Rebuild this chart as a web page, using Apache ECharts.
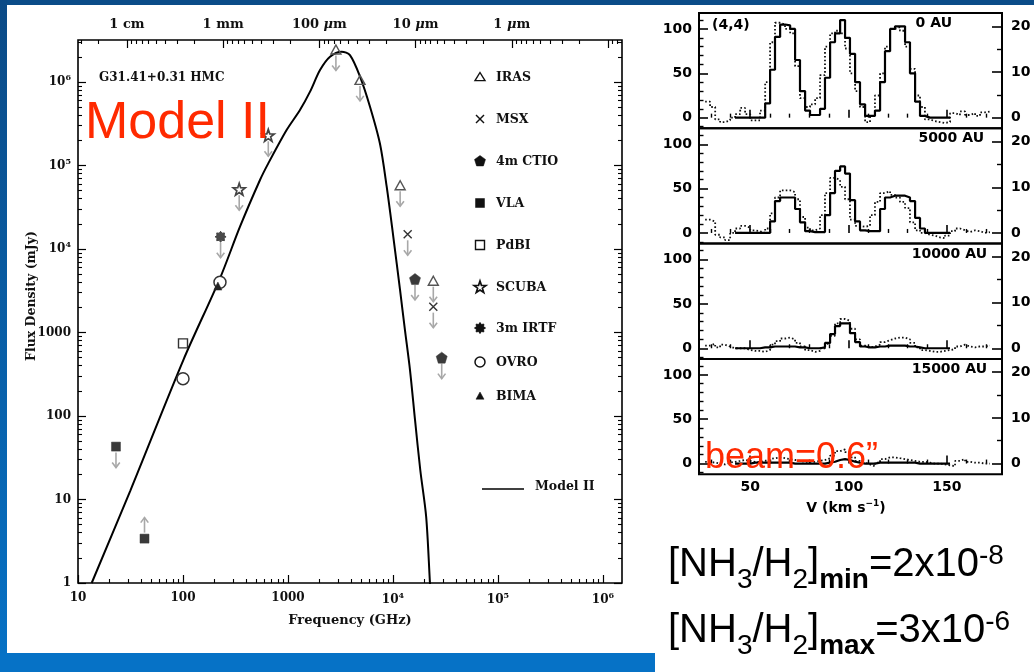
<!DOCTYPE html>
<html><head><meta charset="utf-8">
<script src="https://cdn.jsdelivr.net/npm/echarts@6/dist/echarts.min.js"></script>
<style>html,body{margin:0;padding:0;background:#fff}#c{width:1034px;height:672px}</style>
</head><body><div id="c"></div>
<script>
// ---------------- SED of G31.41+0.31 HMC (frequency GHz, flux density mJy) ----------------
const instruments = ['IRAS', 'MSX', '4m CTIO', 'VLA', 'PdBI', 'SCUBA', '3m IRTF', 'OVRO', 'BIMA'];
const irasPts  = [[2860, 2.45e6], [4850, 1.06e6], [11700, 5.8e4], [24200, 4170]];
const msxPts   = [[13800, 1.5e4], [24200, 2040]];
const ctioPts  = [[16200, 4370], [29100, 500]];
const vlaPts   = [[23, 43], [43, 3.4]];
const pdbiPts  = [[100, 740]];
const scubaPts = [[649, 2.3e5], [343, 5.2e4]];
const irtfPts  = [[228, 1.4e4]];
const ovroPts  = [[100, 280], [225, 4000]];
const bimaPts  = [[215, 3600]];
// limit direction per point: 1 = upper limit (arrow down), -1 = lower limit (arrow up)
const irasLim  = [1, 1, 1, 1];
const msxLim   = [1, 1];
const ctioLim  = [1, 1];
const vlaLim   = [1, -1];
const scubaLim = [1, 1];
const irtfLim  = [1];
// Model II spectral energy distribution
const modelSED = [[13.5, 1.0], [31.6, 12.9], [100.7, 468], [225, 4460], [349, 18500], [541, 67000],
  [649, 106000], [970, 266000], [1300, 462000], [1622, 766000], [2018, 1.39e6], [2512, 2.01e6],
  [3243, 2.31e6], [3890, 2.10e6], [4853, 1.16e6], [6039, 5.06e5], [7516, 1.82e5], [8710, 5.57e4],
  [10070, 1.40e4], [11670, 3230], [13000, 1070], [14520, 355], [16220, 89], [18200, 22.4],
  [20700, 6.2], [22490, 1.0], [22900, 0.7]];
const freqTicks = [10, 100, 1000, 1e4, 1e5, 1e6];
const fluxTicks = [1, 10, 100, 1000, 1e4, 1e5, 1e6];
const waveTicksCm = [1, 0.1, 0.01, 0.001, 1e-4];
const waveLabels = ['1 cm', '1 mm', '100 {i|μ}m', '10 {i|μ}m', '1 {i|μ}m'];

// ---------------- NH3 (4,4) spectra at four offsets ----------------
const panelNames = ['0 AU', '5000 AU', '10000 AU', '15000 AU'];
const chanWidth = 2.54;
const velModel = [43.6, 46.2, 48.7, 51.3, 53.8, 56.3, 58.9, 61.4, 63.9, 66.5, 69.0, 71.6, 74.1, 76.6,
  79.2, 81.7, 84.3, 86.8, 89.3, 91.9, 94.4, 97.0, 99.5, 102.0, 104.6, 107.1, 109.7, 112.2, 114.7,
  117.3, 119.8, 122.4, 124.9, 127.4, 130.0, 132.5, 135.1, 137.6, 140.1, 142.7, 145.2, 147.8, 150.3];
const velObs = [28.4, 30.9, 33.5, 36.0, 38.5, 41.1, 43.6, 46.2, 48.7, 51.3, 53.8, 56.3, 58.9, 61.4,
  63.9, 66.5, 69.0, 71.6, 74.1, 76.6, 79.2, 81.7, 84.3, 86.8, 89.3, 91.9, 94.4, 97.0, 99.5, 102.0,
  104.6, 107.1, 109.7, 112.2, 114.7, 117.3, 119.8, 122.4, 124.9, 127.4, 130.0, 132.5, 135.1, 137.6,
  140.1, 142.7, 145.2, 147.8, 150.3, 152.9, 155.4, 157.9, 160.5, 163.0, 165.6, 168.1, 170.6];
const model0 = [0, 0, 0, 0, 0, 0, 16, 54, 91, 105, 104, 100, 65, 30, 8, 3, 3, 10, 45, 85, 95, 110, 90,
  72, 40, 15, 2, 2, 8, 40, 75, 100, 103, 103, 85, 50, 18, 2, 0, 0, 0, 0, 0];
const model1 = [0, 0, 0, 0, 0, 0, 0, 13, 36, 40, 40, 40, 27, 12, 2, 1, 1, 1, 20, 45, 70, 75, 67, 37,
  13, 3, 2, 2, 2, 27, 40, 42, 42, 42, 40, 36, 17, 5, 0, 0, 0, 0, 0];
const model2 = [0, 0, 0, 0, 0, 1, 1, 2, 2, 2, 2, 2, 1, 1, 0, 0, 0, 1, 6, 16, 25, 28, 28, 17, 7, 2, 1,
  1, 2, 2, 3, 3, 3, 3, 2, 2, 1, 0, 0, 0, 0, 0, 0];
const model3 = [0, 0, 0, 1, 1, 1, 1, 1, 1, 1, 1, 0, 0, 0, 0, 0, 0, 0, 1, 2, 4, 5, 4, 2, 1, 0, 0, 0, 1,
  1, 1, 1, 1, 1, 1, 1, 0, 0, 0, 0, 0, 0, 0];
const obs0 = [18, 12, -2, -5, -3, 0, 4, 11, 4, -3, -3, 8, 40, 85, 107, 105, 100, 95, 58, 22, 12, 15, 22,
  48, 80, 95, 98, 95, 78, 50, 30, 12, -5, 2, 25, 50, 80, 100, 102, 98, 80, 55, 25, 12, -2, -4, -5, -6,
  -5, 5, 3, 7, 3, 5, 2, 6, 7];
const obs1 = [15, 13, -2, -5, -8, 0, 5, 8, 6, 3, 2, 0, 5, 22, 40, 48, 48, 46, 38, 18, 6, 3, 5, 20, 45,
  62, 60, 52, 38, 15, 8, 7, 8, 20, 35, 45, 47, 43, 40, 35, 28, 12, 3, 0, -2, -3, -5, -6, -3, 2, 5, 3,
  1, 3, 2, 0, 1];
const obs2 = [3, 5, 1, 4, 2, 0, 0, 0, -2, -3, -3, -4, -2, 4, 8, 11, 12, 10, 6, 2, -2, -4, -3, 0, 5, 14,
  28, 33, 31, 22, 10, 3, 1, 2, 4, 7, 9, 11, 12, 12, 10, 6, 1, -2, -3, -4, -4, -3, -2, -1, 2, 4, 2, 1,
  2, 2, 3];
const obs3 = [2, 1, 0, -1, 1, 2, 3, 4, 3, 2, 2, 3, 5, 6, 7, 6, 5, 4, 3, 2, 2, 2, 3, 4, 6, 9, 14, 16, 13,
  7, 3, 1, -1, -3, 1, 5, 7, 7, 6, 5, 4, 3, 2, 2, 1, 0, 0, -1, -2, -3, 3, 5, 2, 1, 1, 0, 0];
const modelSpectra = [model0, model1, model2, model3];
const obsSpectra = [obs0, obs1, obs2, obs3];
const tbTicks = [0, 50, 100];
const tbMinor = [-10, 10, 20, 30, 40, 60, 70, 80, 90, 110];
const rightTicks = [0, 10, 20];
const rightMinor = [5, 15];
const velTicks = [50, 100, 150];
const velMinor = [30, 40, 60, 70, 80, 90, 110, 120, 130, 140, 160, 170];
const rightScale = 5.15; // left-axis units per right-axis unit

// ---------------- layout ----------------
const SED = { left: 78, top: 40, width: 544, height: 543 };
const SP = { left: 699, width: 303, height: 115.3, tops: [13, 128.3, 243.6, 358.9] };

const serif = 'DejaVu Serif';
const sans = 'DejaVu Sans';
const arial = 'Liberation Sans';
const supRich = { s: { fontSize: 8, fontFamily: serif, fontWeight: 'bold', color: '#111', verticalAlign: 'top', padding: [0, 0, 8, 0] } };

function decadeMinors(lo, hi) {
  const out = [];
  for (let e = Math.floor(Math.log10(lo)) - 1; e <= Math.ceil(Math.log10(hi)); e++) {
    for (let k = 2; k <= 9; k++) {
      const v = k * Math.pow(10, e);
      if (v > lo && v < hi) out.push(v);
    }
  }
  return out;
}
const xMin = 10, xMax = Math.pow(10, 6.181);
const yMin = 1, yMax = Math.pow(10, 6.503);
// wavelength (cm) scale along the top edge
const wMin = Math.pow(10, -5.146), wMax = Math.pow(10, 0.509);

const serifLabel = { fontFamily: serif, fontWeight: 'bold', fontSize: 12, color: '#111' };
function pow10Label(v) {
  const e = Math.round(Math.log10(v));
  return e >= 4 ? '10{s|' + e + '}' : String(Math.round(v));
}

const xAxes = [
  { gridIndex: 0, type: 'log', min: xMin, max: xMax, position: 'bottom', axisLine: { show: false },
    axisTick: { inside: true, length: 8, customValues: freqTicks, lineStyle: { color: '#000', width: 1.2 } },
    axisLabel: Object.assign({ customValues: freqTicks, margin: 9, formatter: pow10Label, rich: supRich }, serifLabel),
    splitLine: { show: false }, name: 'Frequency (GHz)', nameLocation: 'middle', nameGap: 31,
    nameTextStyle: { fontFamily: serif, fontWeight: 'bold', fontSize: 13, color: '#111' } },
  { gridIndex: 0, type: 'log', min: xMin, max: xMax, position: 'bottom', axisLine: { show: false },
    axisTick: { inside: true, length: 4, customValues: decadeMinors(xMin, xMax), lineStyle: { color: '#000', width: 1.1 } },
    axisLabel: { show: false }, splitLine: { show: false } },
  { gridIndex: 0, type: 'log', min: wMin, max: wMax, inverse: true, position: 'top', axisLine: { show: false },
    axisTick: { inside: true, length: 8, customValues: waveTicksCm.concat([1e-5]), lineStyle: { color: '#000', width: 1.2 } },
    axisLabel: { customValues: waveTicksCm, margin: 9, fontFamily: serif, fontWeight: 'bold', fontSize: 13, color: '#111',
      formatter: v => waveLabels[-Math.round(Math.log10(v))] || '',
      rich: { i: { fontFamily: serif, fontWeight: 'bold', fontStyle: 'italic', fontSize: 13, color: '#111' } } },
    splitLine: { show: false } },
  { gridIndex: 0, type: 'log', min: wMin, max: wMax, inverse: true, position: 'top', axisLine: { show: false },
    axisTick: { inside: true, length: 4, customValues: decadeMinors(wMin, wMax), lineStyle: { color: '#000', width: 1.1 } },
    axisLabel: { show: false }, splitLine: { show: false } }
];
const yAxes = [
  { gridIndex: 0, type: 'log', min: yMin, max: yMax, position: 'left', axisLine: { show: false },
    axisTick: { inside: true, length: 8, customValues: fluxTicks, lineStyle: { color: '#000', width: 1.2 } },
    axisLabel: Object.assign({ customValues: fluxTicks, margin: 7, formatter: pow10Label, rich: supRich }, serifLabel),
    splitLine: { show: false } },
  { gridIndex: 0, type: 'log', min: yMin, max: yMax, position: 'left', axisLine: { show: false },
    axisTick: { inside: true, length: 4, customValues: decadeMinors(yMin, yMax), lineStyle: { color: '#000', width: 1.1 } },
    axisLabel: { show: false }, splitLine: { show: false } },
  { gridIndex: 0, type: 'log', min: yMin, max: yMax, position: 'right', axisLine: { show: false },
    axisTick: { inside: true, length: 8, customValues: fluxTicks, lineStyle: { color: '#000', width: 1.2 } },
    axisLabel: { show: false }, splitLine: { show: false } },
  { gridIndex: 0, type: 'log', min: yMin, max: yMax, position: 'right', axisLine: { show: false },
    axisTick: { inside: true, length: 4, customValues: decadeMinors(yMin, yMax), lineStyle: { color: '#000', width: 1.1 } },
    axisLabel: { show: false }, splitLine: { show: false } }
];
const grids = [{ left: SED.left, top: SED.top, width: SED.width, height: SED.height, show: true,
  borderColor: '#000', borderWidth: 1.6, backgroundColor: 'transparent' }];

const spLabel = { fontFamily: sans, fontWeight: 'bold', fontSize: 14, color: '#000' };
SP.tops.forEach((top, p) => {
  const g = p + 1;
  grids.push({ left: SP.left, top: top, width: SP.width, height: SP.height, show: true,
    borderColor: '#000', borderWidth: 2, backgroundColor: 'transparent' });
  xAxes.push({ gridIndex: g, type: 'value', min: 24, max: 178, position: 'bottom', axisLine: { show: false },
    axisTick: { inside: true, length: 8, customValues: velTicks, lineStyle: { color: '#000', width: 1.6 } },
    axisLabel: Object.assign({ show: p === 3, customValues: velTicks, margin: 6 }, spLabel), splitLine: { show: false } });
  xAxes.push({ gridIndex: g, type: 'value', min: 24, max: 178, position: 'bottom', axisLine: { show: false },
    axisTick: { inside: true, length: 4, customValues: velMinor, lineStyle: { color: '#000', width: 1.4 } },
    axisLabel: { show: false }, splitLine: { show: false } });
  yAxes.push({ gridIndex: g, type: 'value', min: -12, max: 118, position: 'left', axisLine: { show: false },
    axisTick: { inside: true, length: 9, customValues: tbTicks, lineStyle: { color: '#000', width: 1.6 } },
    axisLabel: Object.assign({ customValues: tbTicks, margin: 7 }, spLabel), splitLine: { show: false } });
  yAxes.push({ gridIndex: g, type: 'value', min: -12, max: 118, position: 'left', axisLine: { show: false },
    axisTick: { inside: true, length: 4.5, customValues: tbMinor, lineStyle: { color: '#000', width: 1.4 } },
    axisLabel: { show: false }, splitLine: { show: false } });
  yAxes.push({ gridIndex: g, type: 'value', min: -12 / rightScale, max: 118 / rightScale, position: 'right', axisLine: { show: false },
    axisTick: { inside: true, length: 10, customValues: rightTicks, lineStyle: { color: '#000', width: 1.6 } },
    axisLabel: Object.assign({ customValues: rightTicks, margin: 9 }, spLabel), splitLine: { show: false } });
  yAxes.push({ gridIndex: g, type: 'value', min: -12 / rightScale, max: 118 / rightScale, position: 'right', axisLine: { show: false },
    axisTick: { inside: true, length: 5, customValues: rightMinor, lineStyle: { color: '#000', width: 1.4 } },
    axisLabel: { show: false }, splitLine: { show: false } });
});

// ---------------- marker shapes (outlines in a 10x10 box) ----------------
const gearOutline = [[5, 0], [6.2, 1.8], [8.5, 1.5], [8.2, 3.8], [10, 5], [8.2, 6.2], [8.5, 8.5], [6.2, 8.2],
  [5, 10], [3.8, 8.2], [1.5, 8.5], [1.8, 6.2], [0, 5], [1.8, 3.8], [1.5, 1.5], [3.8, 1.8]];
const markers = {
  'IRAS':    { pts: [[5, 0], [10, 9], [0, 9]], size: [10, 9], fill: 'transparent', stroke: '#555', lw: 1.4 },
  'MSX':     { cross: true, size: 8, fill: 'transparent', stroke: '#333', lw: 1.4 },
  '4m CTIO': { pts: [[5, 0], [10, 3.6], [8.1, 9.5], [1.9, 9.5], [0, 3.6]], size: 11, fill: '#3a3a3a', stroke: '#3a3a3a', lw: 0.5 },
  'VLA':     { pts: [[0, 0], [10, 0], [10, 10], [0, 10]], size: 9, fill: '#3a3a3a', stroke: '#3a3a3a', lw: 0.5 },
  'PdBI':    { pts: [[0, 0], [10, 0], [10, 10], [0, 10]], size: 9, fill: 'transparent', stroke: '#333', lw: 1.4 },
  'SCUBA':   { pts: [[5, 0], [6.2, 3.6], [10, 3.7], [7, 6], [8.1, 9.6], [5, 7.5], [1.9, 9.6], [3, 6], [0, 3.7], [3.8, 3.6]], size: 12, fill: '#fff', stroke: '#444', lw: 1.7 },
  '3m IRTF': { pts: gearOutline, size: 11, fill: '#4a4a4a', stroke: '#444', lw: 1 },
  'OVRO':    { circle: true, size: 12, fill: '#fff', stroke: '#333', lw: 1.5 },
  'BIMA':    { pts: [[5, 0], [10, 9], [0, 9]], size: 8, fill: '#222', stroke: '#222', lw: 0.5 }
};
function symbolOf(m) {
  if (m.circle) return 'circle';
  if (m.cross) return 'path://M0,0 L10,10 M10,0 L0,10';
  return 'path://M' + m.pts.map(p => p[0] + ',' + p[1]).join(' L') + ' Z';
}
const pointSets = { 'IRAS': irasPts, 'MSX': msxPts, '4m CTIO': ctioPts, 'VLA': vlaPts, 'PdBI': pdbiPts,
  'SCUBA': scubaPts, '3m IRTF': irtfPts, 'OVRO': ovroPts, 'BIMA': bimaPts };
const limitSets = [[irasPts, irasLim], [msxPts, msxLim], [ctioPts, ctioLim], [vlaPts, vlaLim], [scubaPts, scubaLim], [irtfPts, irtfLim]];
const arrowData = [];
limitSets.forEach(([pts, lim]) => pts.forEach((pt, i) => arrowData.push([pt[0], pt[1], lim[i]])));

const series = [];
series.push({ type: 'line', name: 'Model II', data: modelSED, xAxisIndex: 0, yAxisIndex: 0, showSymbol: false, symbol: 'none',
  smooth: 0.3, lineStyle: { color: '#000', width: 2 }, z: 3, silent: true, clip: true });
series.push({ type: 'custom', name: 'limits', data: arrowData, xAxisIndex: 0, yAxisIndex: 0, encode: { x: 0, y: 1 }, z: 2, silent: true,
  renderItem: (params, api) => {
    const p = api.coord([api.value(0), api.value(1)]);
    const d = api.value(2);
    const x = p[0], ya = p[1] + d * 6, yb = p[1] + d * 21;
    return { type: 'group', children: [
      { type: 'line', shape: { x1: x, y1: ya, x2: x, y2: yb }, style: { stroke: '#a8a8a8', lineWidth: 1.6 } },
      { type: 'polyline', shape: { points: [[x - 3.8, yb - d * 5], [x, yb], [x + 3.8, yb - d * 5]] }, style: { stroke: '#a8a8a8', lineWidth: 1.6, fill: null } }
    ] };
  } });
instruments.forEach(name => {
  const m = markers[name];
  series.push({ type: 'scatter', name, data: pointSets[name], xAxisIndex: 0, yAxisIndex: 0, symbol: symbolOf(m), symbolSize: m.size,
    itemStyle: { color: m.fill, borderColor: m.stroke, borderWidth: m.lw, opacity: 1 }, z: 4, silent: true });
});

function histogram(vel, vals) {
  const pts = vel.map((v, i) => [v - chanWidth / 2, vals[i]]);
  pts.push([vel[vel.length - 1] + chanWidth / 2, vals[vals.length - 1]]);
  return pts;
}
SP.tops.forEach((top, p) => {
  series.push({ type: 'line', name: 'obs ' + panelNames[p], data: histogram(velObs, obsSpectra[p]), step: 'end',
    xAxisIndex: 4 + 2 * p, yAxisIndex: 4 + 4 * p, symbol: 'none', silent: true,
    lineStyle: { color: '#111', width: 1.8, type: [1.6, 2.2] }, z: 3 });
  series.push({ type: 'line', name: 'model ' + panelNames[p], data: histogram(velModel, modelSpectra[p]), step: 'end',
    xAxisIndex: 4 + 2 * p, yAxisIndex: 4 + 4 * p, symbol: 'none', silent: true,
    lineStyle: { color: '#000', width: 2.2 }, z: 4 });
});

// ---------------- annotations ----------------
const measureCtx = document.createElement('canvas').getContext('2d');
function textRun(pieces, x0, baseline) {
  const out = [];
  let x = x0;
  pieces.forEach(pc => {
    const weight = pc.bold ? 'bold' : 'normal';
    measureCtx.font = weight + ' ' + pc.size + 'px "' + arial + '"';
    const w = measureCtx.measureText(pc.t).width;
    out.push({ type: 'text', x: x, y: baseline + (pc.dy || 0) - 0.35 * pc.size, z: 20,
      style: { text: pc.t, fontSize: pc.size, fontFamily: arial, fontWeight: weight, fill: pc.fill || '#000',
        textAlign: 'left', align: 'left', textVerticalAlign: 'middle', verticalAlign: 'middle' } });
    x += w;
  });
  return out;
}
const ratioMin = '2x10', ratioMinExp = '-8';
const ratioMax = '3x10', ratioMaxExp = '-6';
function abundanceLine(tag, value, exp, baseline) {
  const S = 40, s = 28, sub = 11, sup = -13;
  return textRun([
    { t: '[NH', size: S }, { t: '3', size: s, dy: sub }, { t: '/H', size: S }, { t: '2', size: s, dy: sub },
    { t: ']', size: S }, { t: tag, size: s, dy: sub, bold: true }, { t: '=' + value, size: S }, { t: exp, size: s, dy: sup }
  ], 668, baseline);
}

const graphics = [];
// slide frame
graphics.push({ type: 'rect', shape: { x: 0, y: 0, width: 1034, height: 5 }, style: { fill: '#0b4c88' }, z: 1 });
graphics.push({ type: 'rect', shape: { x: 0, y: 0, width: 7, height: 672 }, z: 1,
  style: { fill: new echarts.graphic.LinearGradient(0, 0, 0, 1, [{ offset: 0, color: '#0b4a86' }, { offset: 1, color: '#0672c6' }]) } });
graphics.push({ type: 'rect', shape: { x: 0, y: 653, width: 655, height: 19 }, style: { fill: '#0672c6' }, z: 1 });

// SED annotations
graphics.push({ type: 'text', x: 99, y: 78, z: 10, style: { text: 'G31.41+0.31 HMC', fontFamily: serif, fontWeight: 'bold', fontSize: 12,
  fill: '#111', textAlign: 'left', align: 'left', textVerticalAlign: 'middle', verticalAlign: 'middle' } });
graphics.push({ type: 'text', x: 32, y: 296, rotation: Math.PI / 2, z: 10, style: { text: 'Flux Density (mJy)', fontFamily: serif,
  fontWeight: 'bold', fontSize: 12.5, fill: '#111', textAlign: 'center', align: 'center', textVerticalAlign: 'middle', verticalAlign: 'middle' } });
textRun([{ t: 'Model II', size: 52, fill: '#ff2a00' }], 85, 142).forEach(e => graphics.push(e));

// SED key
const keyY = [77, 119, 161, 203, 245, 287, 328, 362, 396];
const keyX = 480;
instruments.forEach((name, i) => {
  const m = markers[name];
  const cy = keyY[i];
  const sz = Array.isArray(m.size) ? m.size : [m.size, m.size];
  const ink = '#111';
  if (m.circle) {
    graphics.push({ type: 'circle', shape: { cx: keyX, cy: cy, r: 5 }, style: { fill: '#fff', stroke: ink, lineWidth: 1.5 }, z: 10 });
  } else if (m.cross) {
    graphics.push({ type: 'line', shape: { x1: keyX - 4, y1: cy - 4, x2: keyX + 4, y2: cy + 4 }, style: { stroke: ink, lineWidth: 1.4 }, z: 10 });
    graphics.push({ type: 'line', shape: { x1: keyX + 4, y1: cy - 4, x2: keyX - 4, y2: cy + 4 }, style: { stroke: ink, lineWidth: 1.4 }, z: 10 });
  } else {
    const pts = m.pts.map(p => [keyX - sz[0] / 2 + p[0] * sz[0] / 10, cy - sz[1] / 2 + p[1] * sz[1] / 10]);
    const open = m.fill === 'transparent' || m.fill === '#fff';
    graphics.push({ type: 'polygon', shape: { points: pts }, z: 10,
      style: { fill: open ? '#fff' : ink, stroke: ink, lineWidth: m.lw } });
  }
  graphics.push({ type: 'text', x: 496, y: cy + 1, z: 10, style: { text: name, fontFamily: serif, fontWeight: 'bold', fontSize: 12.5,
    fill: '#111', textAlign: 'left', align: 'left', textVerticalAlign: 'middle', verticalAlign: 'middle' } });
});
const modelKeyY = 487;
graphics.push({ type: 'line', shape: { x1: 482, y1: modelKeyY + 2, x2: 524, y2: modelKeyY + 2 }, style: { stroke: '#000', lineWidth: 1.5 }, z: 10 });
graphics.push({ type: 'text', x: 535, y: modelKeyY, z: 10, style: { text: 'Model II', fontFamily: serif, fontWeight: 'bold', fontSize: 12.5,
  fill: '#111', textAlign: 'left', align: 'left', textVerticalAlign: 'middle', verticalAlign: 'middle' } });

// spectra annotations
graphics.push({ type: 'text', x: 712, y: 25, z: 10, style: { text: '(4,4)', fontFamily: sans, fontWeight: 'bold', fontSize: 14,
  fill: '#000', textAlign: 'left', align: 'left', textVerticalAlign: 'middle', verticalAlign: 'middle' } });
const nameRight = [952, 984, 987, 987];
panelNames.forEach((t, p) => {
  graphics.push({ type: 'text', x: nameRight[p], y: SP.tops[p] + 10.5, z: 10, style: { text: t, fontFamily: sans, fontWeight: 'bold', fontSize: 14,
    fill: '#000', textAlign: 'right', align: 'right', textVerticalAlign: 'middle', verticalAlign: 'middle' } });
});
graphics.push({ type: 'text', x: 846, y: 508, z: 10, style: { text: 'V (km s{s|−1})', fontFamily: sans, fontWeight: 'bold', fontSize: 14,
  fill: '#000', textAlign: 'center', align: 'center', textVerticalAlign: 'middle', verticalAlign: 'middle',
  rich: { s: { fontFamily: sans, fontWeight: 'bold', fontSize: 9, fill: '#000', verticalAlign: 'top', padding: [0, 0, 8, 0] } } } });
textRun([{ t: 'beam=0.6”', size: 36, fill: '#ff2a00' }], 705, 471).forEach(e => graphics.push(e));
abundanceLine('min', ratioMin, ratioMinExp, 579).forEach(e => graphics.push(e));
abundanceLine('max', ratioMax, ratioMaxExp, 645).forEach(e => graphics.push(e));

const chart = echarts.init(document.getElementById('c'), null, { renderer: 'canvas', width: 1034, height: 672 });
chart.setOption({
  backgroundColor: '#fff',
  animation: false,
  grid: grids,
  xAxis: xAxes,
  yAxis: yAxes,
  series: series,
  graphic: { elements: graphics }
});
</script>
</body></html>
